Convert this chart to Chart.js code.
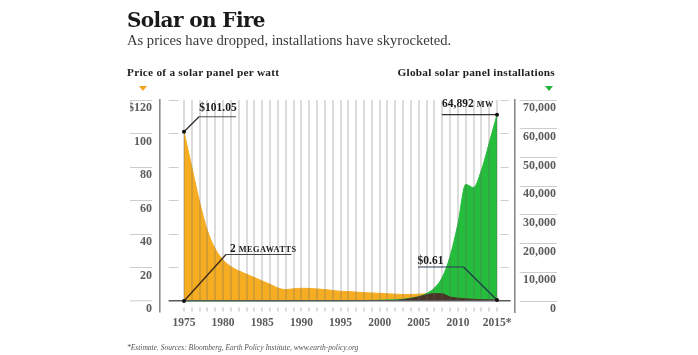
<!DOCTYPE html>
<html>
<head>
<meta charset="utf-8">
<script src="https://cdn.jsdelivr.net/npm/chart.js@4.4.1/dist/chart.umd.min.js"></script>
<style>
  html, body { margin:0; padding:0; background:#ffffff; }
  #wrap { position:relative; width:698px; height:355px; overflow:hidden; }
  #c { position:absolute; left:0; top:0; }
  .t { position:absolute; white-space:nowrap; line-height:1; }
  #title { left:127px; top:9.5px; font-family:"DejaVu Serif"; font-weight:bold; font-size:20px; letter-spacing:-0.6px; color:#1a1a1a; }
  #sub { left:127px; top:33px; font-family:"Liberation Serif"; font-size:14.6px; color:#3a3a3a; }
  #hl { left:127px; top:66.7px; font-family:"Liberation Serif"; font-weight:bold; font-size:11.3px; letter-spacing:0.25px; color:#1e1e1e; }
  #hr { right:143px; top:66.7px; font-family:"Liberation Serif"; font-weight:bold; font-size:11.3px; letter-spacing:0.25px; color:#1e1e1e; }
  .tri { position:absolute; width:0; height:0; border-left:4.5px solid transparent; border-right:4.5px solid transparent; border-top:5px solid; }
  #tl { left:139px; top:86px; border-top-color:#f2a51f; }
  #tr { left:545px; top:86px; border-top-color:#22b33a; }
  #foot { left:127px; top:343.5px; font-family:"Liberation Serif"; font-style:italic; font-size:7.5px; color:#555; }
</style>
</head>
<body>
<div id="wrap">
  <canvas id="c" width="698" height="355"></canvas>
  <div class="t" id="title">Solar on Fire</div>
  <div class="t" id="sub">As prices have dropped, installations have skyrocketed.</div>
  <div class="t" id="hl">Price of a solar panel per watt</div>
  <div class="t" id="hr">Global solar panel installations</div>
  <div class="tri" id="tl"></div>
  <div class="tri" id="tr"></div>
  <div class="t" id="foot">*Estimate. Sources: Bloomberg, Earth Policy Institute, www.earth-policy.org</div>
</div>
<script>
// ---- data ----
const years = [1975,1976,1977,1978,1979,1980,1981,1982,1983,1984,1985,1986,1987,1988,1989,1990,1991,1992,1993,1994,1995,1996,1997,1998,1999,2000,2001,2002,2003,2004,2005,2006,2007,2008,2009,2010,2011,2012,2013,2014,2015];
// price of a solar panel, $ per watt
const price = [101.05,80,59,42,31,24.5,20.5,18,16,14,12,10,7.8,6.8,7.3,7.6,7.5,7.2,6.8,6.3,5.8,5.6,5.3,5.0,4.8,4.6,4.3,4.1,3.9,3.9,4.1,4.3,4.5,4.3,2.4,1.7,1.3,1.0,0.8,0.7,0.61];
// global solar panel installations, MW
const installs = [2,2,3,5,6,7,9,12,17,20,22,26,29,34,40,46,55,58,60,69,78,89,126,155,201,277,371,450,600,1000,1500,2600,4500,8200,15500,26800,40600,39500,45500,55000,64892];
// dark band where the price area lies under the installations area ($ per watt)
const overlapYears = [2002,2003,2004,2005,2006,2007,2008,2009,2010,2011,2012,2013,2014,2015];
const overlap = [0.3,0.8,1.5,2.5,3.8,4.4,4.3,2.4,1.7,1.3,1.0,0.8,0.7,0.61];
// tick labels
const xTickLabels = ['1975','1980','1985','1990','1995','2000','2005','2010','2015*'];
const priceTicks = [0,20,40,60,80,100,120];
const installTicks = [0,10000,20000,30000,40000,50000,60000,70000];
// callouts
const calloutTexts = ['$101.05','2','MEGAWATTS','64,892','MW','$0.61'];

const pts = (xs, ys) => xs.map((v, i) => ({x: v, y: ys[i]}));

const callouts = {
  id: 'callouts',
  afterDraw(chart) {
    const {ctx, scales} = chart;
    const X = v => scales.x.getPixelForValue(v);
    const Y = v => scales.y.getPixelForValue(v);
    const Y2 = v => scales.y2.getPixelForValue(v);
    const dot = (x, y) => { ctx.beginPath(); ctx.arc(x, y, 2, 0, Math.PI * 2); ctx.fillStyle = '#111'; ctx.fill(); };
    const path = (p, color, w) => {
      ctx.beginPath(); ctx.moveTo(p[0][0], p[0][1]);
      for (let i = 1; i < p.length; i++) ctx.lineTo(p[i][0], p[i][1]);
      ctx.strokeStyle = color; ctx.lineWidth = w; ctx.setLineDash([]); ctx.stroke();
    };
    ctx.save();
    ctx.textBaseline = 'alphabetic';
    // $101.05 at first price
    let ax = X(years[0]), ay = Y(price[0]);
    path([[ax, ay], [ax + 15, ay - 15]], '#2a2a2a', 1.2);
    path([[ax + 15, ay - 15], [ax + 52, ay - 15]], '#555', 1.1);
    dot(ax, ay);
    ctx.fillStyle = '#1b1b1b';
    ctx.font = 'bold 11.5px "Liberation Serif"'; ctx.textAlign = 'center';
    ctx.fillText(calloutTexts[0], ax + 34, ay - 20.5);
    // 2 MEGAWATTS at first installs
    ax = X(years[0]); ay = Y2(installs[0]);
    path([[ax, ay], [ax + 42, ay - 46.5]], '#3b2716', 1.3);
    path([[ax + 42, ay - 46.5], [ax + 107.5, ay - 46.5]], '#444', 1.1);
    dot(ax, ay);
    ctx.fillStyle = '#1b1b1b';
    ctx.textAlign = 'left';
    ctx.font = 'bold 11.5px "Liberation Serif"';
    ctx.fillText(calloutTexts[1], ax + 46, ay - 49);
    const w2 = ctx.measureText(calloutTexts[1]).width;
    ctx.font = 'bold 8.3px "Liberation Serif"';
    ctx.letterSpacing = '0.5px';
    ctx.fillText(calloutTexts[2], ax + 46 + w2 + 3, ay - 49);
    ctx.letterSpacing = '0px';
    // 64,892 MW at last installs
    const n = years.length - 1;
    ax = X(years[n]); ay = Y2(installs[n]);
    path([[ax, ay], [ax - 55, ay]], '#333', 1.1);
    dot(ax, ay);
    ctx.fillStyle = '#1b1b1b';
    ctx.font = 'bold 11.5px "Liberation Serif"';
    ctx.fillText(calloutTexts[3], ax - 55, ay - 7.5);
    const w3 = ctx.measureText(calloutTexts[3]).width;
    ctx.font = 'bold 8.3px "Liberation Serif"';
    ctx.letterSpacing = '0.5px';
    ctx.fillText(calloutTexts[4], ax - 55 + w3 + 3, ay - 7.5);
    ctx.letterSpacing = '0px';
    // $0.61 at last price
    ax = X(years[n]); ay = Y(price[n]);
    path([[ax, ay], [ax - 33.5, ay - 33]], '#1f3a50', 1.3);
    path([[ax - 33.5, ay - 33], [ax - 79, ay - 33]], '#2b3f52', 1.1);
    dot(ax, ay);
    ctx.fillStyle = '#1b1b1b';
    ctx.font = 'bold 11.5px "Liberation Serif"';
    ctx.fillText(calloutTexts[5], ax - 79.5, ay - 36);
    ctx.restore();
  }
};

const tickFont = {family: 'Liberation Serif', size: 12, weight: 'bold'};
const isZero = c => c.tick && c.tick.value === 0;

new Chart(document.getElementById('c'), {
  type: 'line',
  data: {
    datasets: [
      { data: pts(overlapYears, overlap), yAxisID: 'y', fill: 'origin', backgroundColor: '#4a3426', borderColor: '#4a3426', borderWidth: 1, pointRadius: 0, cubicInterpolationMode: 'monotone', order: 0 },
      { data: pts(years, installs), yAxisID: 'y2', fill: 'origin', backgroundColor: '#24bd3c', borderColor: '#24bd3c', borderWidth: 1, pointRadius: 0, cubicInterpolationMode: 'monotone', order: 1 },
      { data: pts(years, price), yAxisID: 'y', fill: 'origin', backgroundColor: '#f6ad22', borderColor: '#f6ad22', borderWidth: 1, pointRadius: 0, cubicInterpolationMode: 'monotone', order: 2 }
    ]
  },
  options: {
    responsive: false, animation: false, devicePixelRatio: 1,
    layout: { padding: { left: 130, right: 142, top: 100, bottom: 23 } },
    plugins: { legend: { display: false }, tooltip: { enabled: false }, title: { display: false } },
    scales: {
      x: {
        type: 'linear', position: 'bottom', min: 1971.933, max: 2017.3,
        afterBuildTicks: s => { s.ticks = years.map(v => ({value: v})); },
        afterFit: s => { s.height = 20; },
        ticks: {
          autoSkip: false, maxRotation: 0, minRotation: 0, padding: 4,
          font: {family: 'Liberation Serif', size: 11.5, weight: 'bold'}, color: '#5c5c5c',
          callback: v => { const i = (v - years[0]) / 5; return Number.isInteger(i) ? xTickLabels[i] : ''; }
        },
        grid: { z: 1, color: 'rgba(95,95,95,0.22)', lineWidth: 2, drawTicks: false },
        border: { display: false, dash: [201, 6.5, 4, 30], z: 1 }
      },
      y: {
        position: 'left', min: -6.567, max: 120,
        afterBuildTicks: s => { s.ticks = priceTicks.map(v => ({value: v})); },
        afterFit: s => { s.width = 30; },
        ticks: {
          padding: -22, labelOffset: 8, font: tickFont, color: '#5c5c5c',
          callback: v => v === priceTicks[priceTicks.length - 1] ? '$' + v : String(v)
        },
        grid: {
          z: 1,
          color: c => isZero(c) ? '#5a5a5a' : '#cdcdcd',
          lineWidth: c => isZero(c) ? 1.6 : 1,
          tickLength: 30, tickColor: '#cdcdcd', tickWidth: 1, tickBorderDash: [22, 8]
        },
        border: {
          display: true, color: '#8a8a8a', width: 1.6, z: 1,
          dash: c => !c.tick ? [] : (c.tick.value === 0 ? [0, 8, 342, 60] : [0, 8, 10, 322, 8, 60])
        }
      },
      y2: {
        position: 'right', min: -3830.8, max: 70000,
        afterBuildTicks: s => { s.ticks = installTicks.map(v => ({value: v})); },
        afterFit: s => { s.width = 41; },
        ticks: {
          padding: 4, labelOffset: 8, crossAlign: 'far', font: tickFont, color: '#5c5c5c',
          callback: v => v.toLocaleString('en-US')
        },
        grid: {
          drawOnChartArea: false, tickLength: 42, tickColor: '#cdcdcd', tickWidth: 1, tickBorderDash: [0, 4, 38, 10]
        },
        border: { display: true, color: '#8a8a8a', width: 1.6 }
      }
    }
  },
  plugins: [callouts]
});
</script>
</body>
</html>
